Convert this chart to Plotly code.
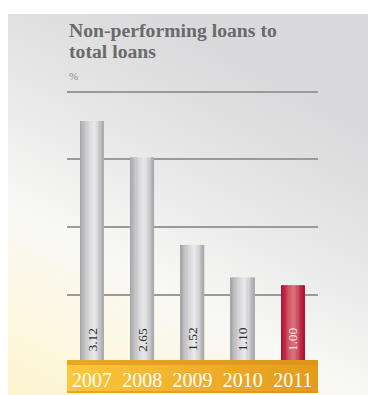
import base64
import plotly.graph_objects as go

# ---- data -------------------------------------------------------------
years = ["2007", "2008", "2009", "2010", "2011"]
npl_ratio = [3.12, 2.65, 1.52, 1.10, 1.00]
highlight = [False, False, False, False, True]
grid_values = [0.875, 1.75, 2.625, 3.5]
title_lines = ["Non-performing loans to", "total loans"]
unit_label = "%"

# ---- geometry ---------------------------------------------------------
W, H = 368, 395
M_L, M_R, M_T, M_B = 67, 50, 90, 35
PLOT_W = W - M_L - M_R
PLOT_H = H - M_T - M_B
SERIF = "Liberation Serif, Times New Roman, serif"


def paper_x(px):
    return (px - M_L) / PLOT_W


def paper_y(py):
    return (H - M_B - py) / PLOT_H


def svg_uri(svg):
    return "data:image/svg+xml;base64," + base64.b64encode(svg.encode()).decode()


def lerp_stops(stops, f):
    for (f0, c0), (f1, c1) in zip(stops, stops[1:]):
        if f0 <= f <= f1:
            t = (f - f0) / (f1 - f0) if f1 > f0 else 0
            rgb = [round(a + (b - a) * t) for a, b in zip(c0, c1)]
            return "rgb({},{},{})".format(*rgb)
    return "rgb({},{},{})".format(*stops[-1][1])


# cylinder shading across the width of a bar
GRAY_STOPS = [(0.0, (160, 160, 163)), (0.12, (184, 184, 187)), (0.35, (212, 212, 215)),
              (0.58, (233, 233, 235)), (0.76, (214, 214, 217)), (0.9, (186, 186, 189)),
              (1.0, (166, 166, 169))]
RED_STOPS = [(0.0, (168, 14, 48)), (0.12, (186, 32, 64)), (0.35, (206, 86, 102)),
             (0.56, (216, 118, 128)), (0.76, (200, 70, 90)), (0.9, (184, 30, 60)),
             (1.0, (172, 18, 52))]

fig = go.Figure()

BAR_W = 0.47
N_SLICES = 18
slice_w = BAR_W / N_SLICES
for i in range(N_SLICES):
    f = (i + 0.5) / N_SLICES
    gray = lerp_stops(GRAY_STOPS, f)
    red = lerp_stops(RED_STOPS, f)
    fig.add_trace(go.Bar(
        x=years,
        y=npl_ratio,
        width=slice_w * (1.35 if i < N_SLICES - 1 else 1.0),
        offset=-BAR_W / 2 + i * slice_w,
        marker=dict(color=[red if h else gray for h in highlight], line=dict(width=0)),
        hoverinfo="skip",
        showlegend=False,
    ))

# value labels, rotated, near the foot of each bar
annotations = []
for idx, (v, h) in enumerate(zip(npl_ratio, highlight)):
    annotations.append(dict(
        x=idx, y=0.3, xref="x", yref="y", text=f"{v:.2f}", showarrow=False,
        textangle=-90, font=dict(family=SERIF, size=13.5, color="#f6e6e8" if h else "#2e2e2e"),
    ))

# title block
annotations += [
    dict(x=0, y=paper_y(29.6), xref="paper", yref="paper", xanchor="left", yanchor="middle",
         text=f"<b>{title_lines[0]}</b>", showarrow=False,
         font=dict(family=SERIF, size=19.7, color="#6a6a6c")),
    dict(x=0, y=paper_y(50.6), xref="paper", yref="paper", xanchor="left", yanchor="middle",
         text=f"<b>{title_lines[1]}</b>", showarrow=False,
         font=dict(family=SERIF, size=19.7, color="#6a6a6c")),
    dict(x=0, y=paper_y(76.3), xref="paper", yref="paper", xanchor="left", yanchor="middle",
         text=unit_label, showarrow=False,
         font=dict(family=SERIF, size=11, color="#8c8c8c")),
]

# panel background: grey at the top fading to cream in the lower left
PANEL_X0, PANEL_Y0 = 8, 14
pw, ph = W - PANEL_X0, H - PANEL_Y0
bg_svg = f"""<svg xmlns="http://www.w3.org/2000/svg" width="{pw}" height="{ph}" viewBox="0 0 {pw} {ph}" preserveAspectRatio="none">
<defs><linearGradient id="g" gradientUnits="userSpaceOnUse" x1="0" y1="{ph}" x2="192" y2="26">
<stop offset="0" stop-color="#fdf4cf"/>
<stop offset="0.22" stop-color="#fdf8e3"/>
<stop offset="0.42" stop-color="#f8f8f6"/>
<stop offset="0.62" stop-color="#ececec"/>
<stop offset="0.85" stop-color="#e0e0e1"/>
<stop offset="1" stop-color="#dadadc"/>
</linearGradient></defs>
<rect width="{pw}" height="{ph}" fill="url(#g)"/></svg>"""

# orange base band under the bars
BAND_TOP, BAND_BOT = 360, 393
bw, bh = PLOT_W, BAND_BOT - BAND_TOP
band_svg = f"""<svg xmlns="http://www.w3.org/2000/svg" width="{bw}" height="{bh}" viewBox="0 0 {bw} {bh}" preserveAspectRatio="none">
<defs><linearGradient id="b" x1="0" y1="0" x2="1" y2="0">
<stop offset="0" stop-color="#fcc83d"/>
<stop offset="0.5" stop-color="#f0b02c"/>
<stop offset="1" stop-color="#e39a1b"/>
</linearGradient>
<linearGradient id="s" x1="0" y1="0" x2="1" y2="0">
<stop offset="0" stop-color="#eaa726"/>
<stop offset="1" stop-color="#dc941a"/>
</linearGradient></defs>
<rect width="{bw}" height="{bh}" fill="url(#b)"/>
<rect width="{bw}" height="5" fill="url(#s)"/>
<rect y="{bh - 2}" width="{bw}" height="2" fill="url(#s)"/></svg>"""

images = [
    dict(source=svg_uri(bg_svg), xref="paper", yref="paper",
         x=paper_x(PANEL_X0), y=paper_y(PANEL_Y0), sizex=pw / PLOT_W, sizey=ph / PLOT_H,
         xanchor="left", yanchor="top", sizing="stretch", layer="below"),
    dict(source=svg_uri(band_svg), xref="paper", yref="paper",
         x=0, y=paper_y(BAND_TOP), sizex=1, sizey=bh / PLOT_H,
         xanchor="left", yanchor="top", sizing="stretch", layer="below"),
]

fig.update_layout(
    width=W, height=H,
    margin=dict(l=M_L, r=M_R, t=M_T, b=M_B, pad=0, autoexpand=False),
    paper_bgcolor="white",
    plot_bgcolor="rgba(0,0,0,0)",
    barmode="overlay",
    showlegend=False,
    annotations=annotations,
    images=images,
    xaxis=dict(
        type="category", range=[-0.5, 4.5], showgrid=False, zeroline=False, showline=False,
        ticks="outside", ticklen=2, tickcolor="rgba(0,0,0,0)", automargin=False,
        tickfont=dict(family=SERIF, size=20, color="white"),
    ),
    yaxis=dict(
        range=[0.035, 3.52], tickvals=grid_values, showticklabels=False, ticks="",
        showgrid=True, gridcolor="#9a9a9a", gridwidth=1.6, zeroline=False, showline=False,
        automargin=False,
    ),
)

fig.write_html("out.html")
